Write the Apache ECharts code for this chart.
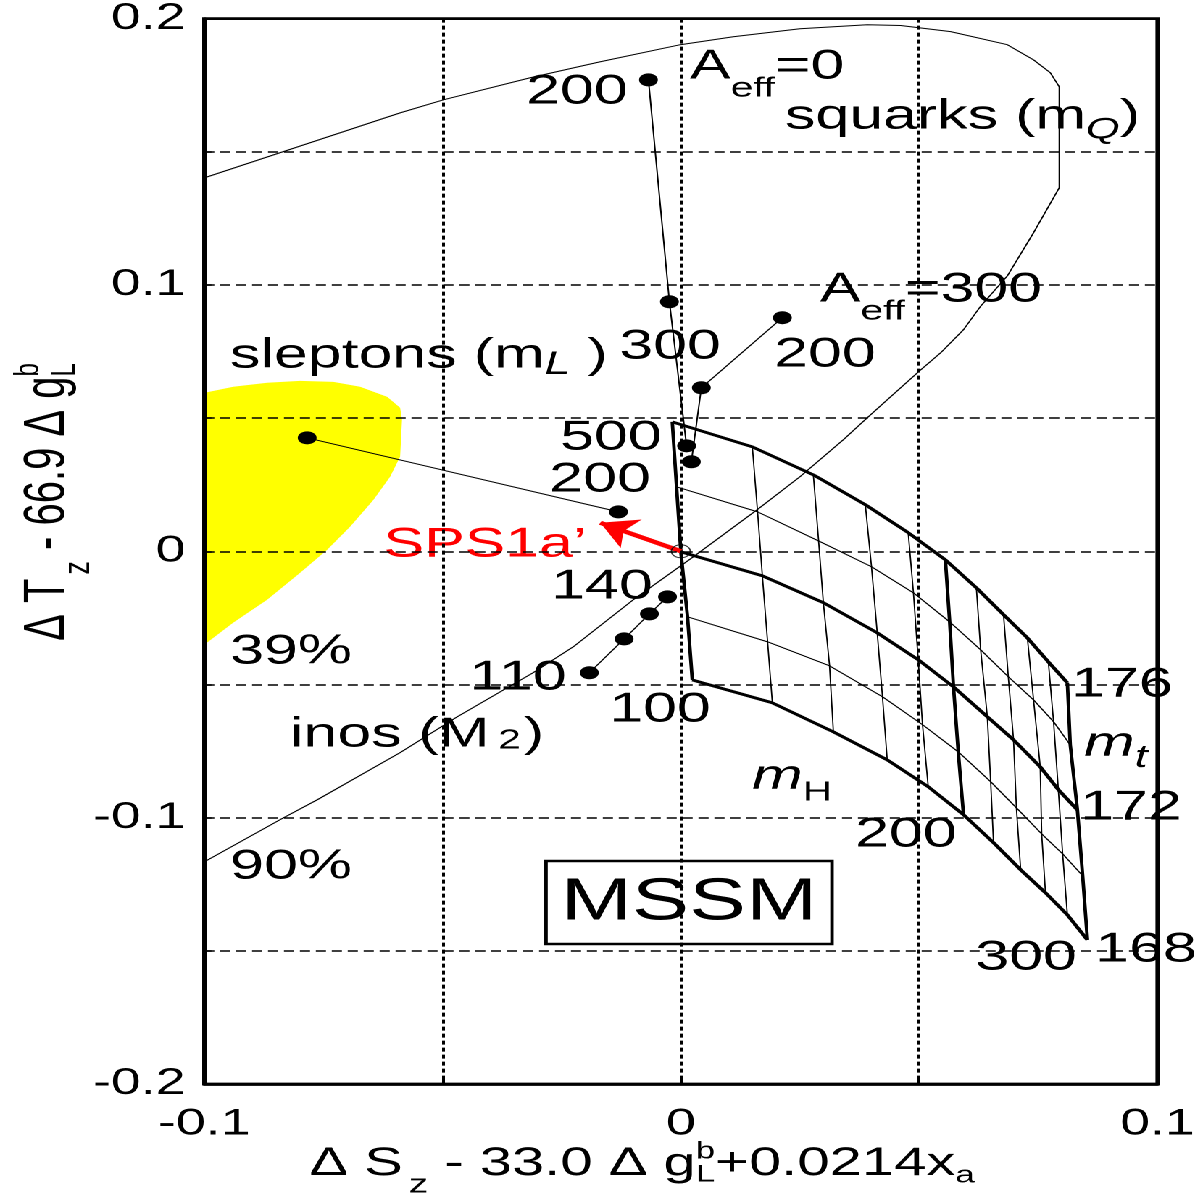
<!DOCTYPE html>
<html><head><meta charset="utf-8">
<script src="https://cdn.jsdelivr.net/npm/echarts@6/dist/echarts.min.js"></script>
<style>
html,body{margin:0;padding:0;background:#fff;overflow:hidden}
#wrap{width:1203px;height:1202px;overflow:hidden;position:relative;background:#fff}
#main{width:830px;height:1202px;transform:scaleX(1.449398);transform-origin:0 0;position:absolute;left:0;top:0}
</style></head>
<body><div id="wrap"><div id="main"></div></div>
<script>
// ---------------- data ----------------
const xRange = [-0.1, 0.1];
const yRange = [-0.2, 0.2];
const gridStep = 0.05;

// 90% CL contour (thin curve)
const contour90 = [[-0.1,0.1402],[-0.0589,0.1646],[-0.0498,0.1695],[-0.0316,0.1778],[-0.0169,0.1838],[-0.0001,0.1902],[0.0110,0.1932],[0.0250,0.1962],[0.0391,0.1977],[0.0461,0.1974],[0.0566,0.1951],[0.0685,0.1902],[0.0740,0.1845],[0.0775,0.1797],[0.0794,0.1744],[0.0794,0.1365],[0.0740,0.1196],[0.0685,0.1034],[0.0628,0.0918],[0.0593,0.0832],[0.0545,0.0745],[0.0503,0.0681],[0.0440,0.0580],[0.0391,0.0501],[0.0341,0.0419],[0.0250,0.0280],[0.0160,0.0156],[0.0026,-0.0021],[-0.0100,-0.0182],[-0.0226,-0.0359],[-0.0310,-0.0456],[-0.0469,-0.0621],[-0.0589,-0.0756],[-0.0763,-0.0933],[-0.0834,-0.1001],[-0.1,-0.1166]];

// 39% CL region (yellow)
const contour39 = [[-0.1,0.0595],[-0.0939,0.0618],[-0.0868,0.0633],[-0.0799,0.0640],[-0.0729,0.0636],[-0.0673,0.0618],[-0.0616,0.0580],[-0.0589,0.0539],[-0.0585,0.0494],[-0.0589,0.0355],[-0.0610,0.0280],[-0.0645,0.0193],[-0.0694,0.0092],[-0.0742,0.0006],[-0.0799,-0.0081],[-0.0868,-0.0182],[-0.0939,-0.0268],[-0.1,-0.0351]];

// MSSM grid: rows of constant m_t, points for m_H = 100..300
const mHValues = [100,120,140,160,180,200,220,240,260,280,300];
const mtValues = [176,174,172,170,168];
const mt176 = [[-0.0018,0.0486],[0.0150,0.0392],[0.0278,0.0287],[0.0387,0.0175],[0.0477,0.0070],[0.0555,-0.0032],[0.0620,-0.0137],[0.0677,-0.0238],[0.0727,-0.0325],[0.0771,-0.0415],[0.0811,-0.0494]];
const mt174 = [[-0.0009,0.0242],[0.0161,0.0148],[0.0289,0.0039],[0.0400,-0.0058],[0.0488,-0.0156],[0.0564,-0.0265],[0.0629,-0.0370],[0.0687,-0.0471],[0.0740,-0.0558],[0.0782,-0.0640],[0.0817,-0.0727]];
const mt172 = [[0.0000,-0.0002],[0.0171,-0.0092],[0.0299,-0.0193],[0.0412,-0.0306],[0.0498,-0.0407],[0.0572,-0.0509],[0.0643,-0.0621],[0.0698,-0.0708],[0.0754,-0.0809],[0.0792,-0.0895],[0.0832,-0.0971]];
const mt170 = [[0.0014,-0.0246],[0.0182,-0.0340],[0.0312,-0.0430],[0.0423,-0.0546],[0.0507,-0.0651],[0.0582,-0.0753],[0.0650,-0.0865],[0.0704,-0.0963],[0.0757,-0.1061],[0.0801,-0.1136],[0.0843,-0.1218]];
const mt168 = [[0.0024,-0.0483],[0.0192,-0.0569],[0.0320,-0.0678],[0.0433,-0.0783],[0.0519,-0.0884],[0.0593,-0.0989],[0.0656,-0.1094],[0.0713,-0.1196],[0.0765,-0.1282],[0.0811,-0.1365],[0.0853,-0.1459]];
const meshRows = [mt176, mt174, mt172, mt170, mt168];

// dotted trajectories
const aeff0 = [[-0.0068,0.1770],[-0.0024,0.0937],[0.0012,0.0396]];     // squarks A_eff=0 : 200,300,500
const aeff300 = [[0.0213,0.0877],[0.0043,0.0614],[0.0022,0.0336]];    // squarks A_eff=300 : 200,300,500
const sleptons = [[-0.0784,0.0426],[-0.0131,0.0148]];                 // m_L = 100, 200
const inos = [[-0.0192,-0.0456],[-0.0119,-0.0329],[-0.0066,-0.0235],[-0.0028,-0.0171]]; // M2 = 110..140
const sps1a = [[0,0]];
const spsArrow = [[0,0],[-0.0169,0.0107]];

// tick labels shown
const xTickLabels = ['-0.1','0','0.1'];
const yTickLabels = ['-0.2','-0.1','0','0.1','0.2'];

// ---------------- rendering ----------------
const S = 1203/830;
const FONT = '"Liberation Sans", Arial, Helvetica, sans-serif';
const chart = echarts.init(document.getElementById('main'), null, {renderer:'canvas', devicePixelRatio:2});

const mctx = document.createElement('canvas').getContext('2d');
function tw(t, fs, it){ mctx.font = (it?'italic ':'') + fs + 'px ' + FONT; return mctx.measureText(t).width; }
function ctext(px, py, pieces, opt){
  opt = opt || {};
  const color = opt.color || '#000';
  let total = 0;
  pieces.forEach(p => { p.w = tw(p.t, p.fs, p.it); if (!p.stack) total += p.w; total += (p.dx||0); });
  let cur = opt.align === 'center' ? -total/2 : (opt.align === 'right' ? -total : 0);
  const children = [];
  pieces.forEach(p => {
    cur += (p.dx||0);
    children.push({type:'text', x:cur, y:(p.dy||0), silent:true,
      style:{text:p.t, fontSize:p.fs, fontFamily:FONT, fontStyle:p.it?'italic':'normal', fill:color,
             align:'left', textAlign:'left', verticalAlign:'middle', textVerticalAlign:'middle'}});
    if (!p.stack) cur += p.w;
  });
  return {type:'group', x:px/S, y:py, rotation:opt.rotation||0, z:5, silent:true, children};
}

const FS = 42;
const plainLabels = [
  ['200',577,92],['300',670,347],['200',825,355],['100',318,412],['500',611,438],['200',600,480],
  ['140',602,587],['39%',291,652],['110',518,678],['176',1122,685],['100',660,710],['172',1131,808],
  ['200',906,835],['90%',291,867],['300',1026,958],['168',1146,950]
];
const graphics = plainLabels.map(l => ctext(l[1], l[2], [{t:l[0], fs:FS}], {align:'center'}));
graphics.push(ctext(485, 545, [{t:'SPS1a’', fs:FS}], {align:'center', color:'#ff0000'}));
graphics.push(ctext(690, 67, [{t:'A',fs:FS},{t:'eff',fs:28,dy:22},{t:'=0',fs:FS}]));
graphics.push(ctext(820, 290, [{t:'A',fs:FS},{t:'eff',fs:28,dy:22},{t:'=300',fs:FS}]));
graphics.push(ctext(785, 117, [{t:'squarks (m',fs:FS},{t:'Q',fs:30,it:true,dy:13},{t:')',fs:FS}]));
graphics.push(ctext(230, 356, [{t:'sleptons (m',fs:FS},{t:'L',fs:32,it:true,dy:9},{t:' )',fs:FS}]));
graphics.push(ctext(290, 735, [{t:'inos (M',fs:FS},{t:'2',fs:28,dy:6,dx:6},{t:')',fs:FS,dx:2}]));
graphics.push(ctext(1084, 744, [{t:'m',fs:FS,it:true},{t:'t',fs:32,it:true,dy:14}]));
graphics.push(ctext(752, 777, [{t:'m',fs:FS,it:true},{t:'H',fs:28,dy:16}]));
graphics.push(ctext(689, 903, [{t:'MSSM',fs:59}], {align:'center'}));
graphics.push({type:'rect', z:5, silent:true, shape:{x:546/S, y:861, width:(832-546)/S, height:83},
  style:{fill:'none', stroke:'#000', lineWidth:2.4}});
// axis titles
graphics.push(ctext(642, 1164, [
  {t:'Δ S',fs:40},{t:'z',fs:27,dy:21,dx:4},{t:' - 33.0 Δ ',fs:40},{t:'g',fs:40},
  {t:'b',fs:24,dy:-12,stack:true},{t:'L',fs:24,dy:11},{t:'+0.0214x',fs:40},{t:'a',fs:24,dy:12}
], {align:'center'}));
graphics.push(ctext(48, 502, [
  {t:'Δ T',fs:40},{t:'z',fs:27,dy:21,dx:4},{t:' - 66.9 Δ ',fs:40},{t:'g',fs:40},
  {t:'b',fs:24,dy:-13,stack:true},{t:'L',fs:24,dy:12}
], {align:'center', rotation:Math.PI/2}));

function fmtTick(list){
  return v => { const s = String(Math.round(v*10)/10); return (Math.abs(Math.round(v*20)) % 2 === 0 && list.indexOf(s) >= 0) ? s : ''; };
}

const series = [];
series.push({type:'custom', name:'39%', coordinateSystem:'cartesian2d', data:contour39, z:1, silent:true, clip:true,
  renderItem:(params, api) => {
    if (params.dataIndex !== 0) return null;
    return {type:'polygon', shape:{points: contour39.map(p => api.coord(p))}, style:{fill:'#ffff00', stroke:null}};
  }});
series.push({type:'line', name:'90%', data:contour90, symbol:'none', showSymbol:false, silent:true,
  lineStyle:{color:'#000', width:1}, z:3});
meshRows.forEach((row, i) => {
  const thick = mtValues[i] % 4 === 0;
  series.push({type:'line', name:'mt'+mtValues[i], data:row, symbol:'none', showSymbol:false, silent:true,
    lineStyle:{color:'#000', width: thick ? 2.8 : 1}, z:3});
});
mHValues.forEach((mh, j) => {
  const thick = mh % 100 === 0;
  series.push({type:'line', name:'mH'+mh, data:meshRows.map(r => r[j]), symbol:'none', showSymbol:false, silent:true,
    lineStyle:{color:'#000', width: thick ? 2.4 : 0.9}, z:3});
});
[['Aeff=0',aeff0],['Aeff=300',aeff300],['sleptons',sleptons],['inos',inos]].forEach(d => {
  series.push({type:'line', name:d[0], data:d[1], symbol:'circle', symbolSize:13, showSymbol:true, silent:true,
    itemStyle:{color:'#000'}, lineStyle:{color:'#000', width:1}, z:4});
});
series.push({type:'scatter', name:'SPS1a', data:sps1a, symbol:'circle', symbolSize:13, silent:true,
  itemStyle:{color:'rgba(0,0,0,0)', borderColor:'#000', borderWidth:1}, z:4});
series.push({type:'lines', name:'arrow', coordinateSystem:'cartesian2d', silent:true, z:4,
  symbol:['none','arrow'], symbolSize:[1,24],
  lineStyle:{color:'#ff0000', width:4.2, opacity:1, curveness:0},
  data:[{coords:spsArrow}]});

const axisCommon = {
  type:'value', z:10,
  axisLine:{show:true, onZero:false, lineStyle:{color:'#000', width:2.8}},
  axisLabel:{color:'#000', fontSize:37, fontFamily:FONT, showMinLabel:true, showMaxLabel:true},
};

chart.setOption({
  animation:false,
  backgroundColor:'#fff',
  grid:{left:140.9, right:31.4, top:18.6, bottom:118, show:true, borderColor:'#000', borderWidth:2.8,
        containLabel:false, outerBoundsMode:'none'},
  xAxis:Object.assign({}, axisCommon, {
    min:xRange[0], max:xRange[1], interval:gridStep,
    axisLabel:Object.assign({}, axisCommon.axisLabel, {margin:22, formatter:fmtTick(xTickLabels)}),
    axisTick:{show:true, inside:true, length:7, lineStyle:{color:'#000', width:2}},
    splitLine:{show:true, lineStyle:{color:'#000', width:2, type:[4,3]}}
  }),
  yAxis:Object.assign({}, axisCommon, {
    min:yRange[0], max:yRange[1], interval:gridStep,
    axisLabel:Object.assign({}, axisCommon.axisLabel, {margin:13, formatter:fmtTick(yTickLabels)}),
    axisTick:{show:true, inside:true, length:5, lineStyle:{color:'#000', width:1.6}},
    splitLine:{show:true, lineStyle:{color:'#000', width:1.6, type:[7,4]}}
  }),
  series,
  graphic:graphics
});
</script></body></html>
